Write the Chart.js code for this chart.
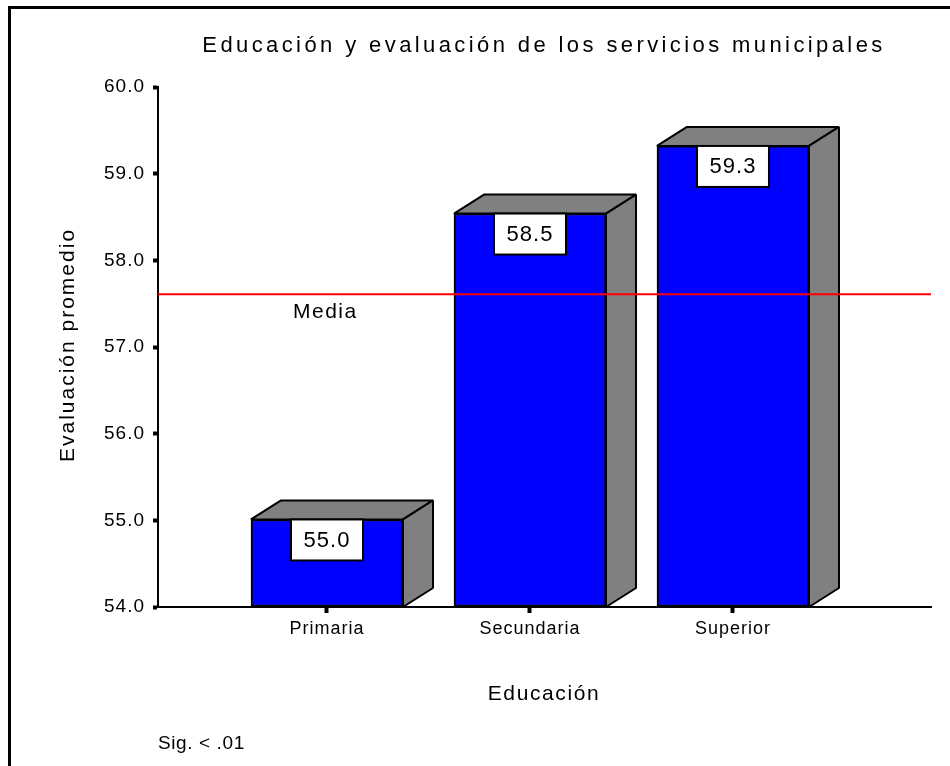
<!DOCTYPE html>
<html>
<head>
<meta charset="utf-8">
<title>Educación y evaluación de los servicios municipales</title>
<script src="https://cdn.jsdelivr.net/npm/chart.js@4.4.1/dist/chart.umd.min.js"></script>
<style>
  html, body { margin: 0; padding: 0; background: #fff; }
  canvas { display: block; }
</style>
</head>
<body>
<canvas id="chart" width="950" height="766"></canvas>
<script>
// datos
const categories = ['Primaria', 'Secundaria', 'Superior'];
const evaluacion = [55.01, 58.54, 59.32];
const media = 57.61;
const yTicks = [54, 55, 56, 57, 58, 59, 60];

const FONT = "'Liberation Sans', Arial, sans-serif";
const DX = 30, DY = 19; // profundidad 3D

function spacedText(ctx, text, x, y, size, spacing, align) {
    ctx.font = size + 'px ' + FONT;
    ctx.letterSpacing = spacing + 'px';
    ctx.textAlign = align || 'center';
    ctx.textBaseline = 'middle';
    ctx.fillStyle = '#000';
    ctx.fillText(text, x, y);
}

// marco y espaciado de letras de los ejes
const framePlugin = {
    id: 'frame',
    beforeDraw(chart) {
        const ctx = chart.ctx;
        ctx.save();
        ctx.fillStyle = '#fff';
        ctx.fillRect(0, 0, chart.width, chart.height);
        ctx.strokeStyle = '#000';
        ctx.lineWidth = 3;
        ctx.strokeRect(9.5, 7.5, 1000, 1000);
        ctx.restore();
        ctx.letterSpacing = '1px';
    }
};

// caras 3D, linea de la media, etiquetas
const barsPlugin = {
    id: 'bars3d',
    afterDatasetsDraw(chart) {
        const ctx = chart.ctx;
        const y = chart.scales.y;
        const area = chart.chartArea;
        const meta = chart.getDatasetMeta(0);
        const b = y.getPixelForValue(y.min);

        meta.data.forEach(bar => {
            const p = bar.getProps(['x', 'y', 'width'], true);
            const l = p.x - p.width / 2, r = p.x + p.width / 2, t = p.y;
            ctx.save();
            ctx.fillStyle = '#808080';
            ctx.strokeStyle = '#000';
            ctx.lineWidth = 2;
            ctx.lineJoin = 'bevel';
            ctx.beginPath();
            ctx.moveTo(l, t); ctx.lineTo(l + DX, t - DY); ctx.lineTo(r + DX, t - DY); ctx.lineTo(r, t);
            ctx.closePath(); ctx.fill(); ctx.stroke();
            ctx.beginPath();
            ctx.moveTo(r, t); ctx.lineTo(r + DX, t - DY); ctx.lineTo(r + DX, b - DY); ctx.lineTo(r, b);
            ctx.closePath(); ctx.fill(); ctx.stroke();
            ctx.restore();
        });

        // linea de la media
        const ym = y.getPixelForValue(media);
        ctx.save();
        ctx.strokeStyle = '#ff0000';
        ctx.lineWidth = 2;
        ctx.beginPath();
        ctx.moveTo(area.left, ym);
        ctx.lineTo(area.right, ym);
        ctx.stroke();
        spacedText(ctx, 'Media', 293, ym + 18, 21, 1.5, 'left');
        ctx.restore();

        // etiquetas de valor
        meta.data.forEach((bar, i) => {
            const p = bar.getProps(['x', 'y'], true);
            ctx.save();
            ctx.fillStyle = '#fff';
            ctx.strokeStyle = '#000';
            ctx.lineWidth = 2;
            ctx.fillRect(p.x - 36, p.y, 72, 41);
            ctx.strokeRect(p.x - 36, p.y, 72, 41);
            spacedText(ctx, evaluacion[i].toFixed(1), p.x, p.y + 21, 22, 1);
            ctx.restore();
        });
    },
    afterDraw(chart) {
        const ctx = chart.ctx;
        ctx.save();
        spacedText(ctx, 'Educación y evaluación de los servicios municipales', 544, 46, 22, 3.4);
        spacedText(ctx, 'Educación', 544, 694, 21, 1.6);
        spacedText(ctx, 'Sig. < .01', 158, 744, 19, 0.6, 'left');
        ctx.translate(68, 345);
        ctx.rotate(-Math.PI / 2);
        spacedText(ctx, 'Evaluación promedio', 0, 0, 21, 2);
        ctx.restore();
    }
};

Chart.defaults.font.family = FONT;
Chart.defaults.color = '#000';

new Chart(document.getElementById('chart'), {
    type: 'bar',
    data: {
        datasets: [{
            data: categories.map((c, i) => ({ x: i + 1, y: evaluacion[i] })),
            base: yTicks[0],
            backgroundColor: '#0000ff',
            borderColor: '#000',
            borderWidth: 2,
            borderSkipped: false,
            barThickness: 152
        }]
    },
    options: {
        responsive: false,
        animation: false,
        layout: { padding: { left: 0, top: 87, right: 19, bottom: 119 } },
        plugins: { legend: { display: false }, tooltip: { enabled: false } },
        scales: {
            x: {
                type: 'linear',
                offset: false,
                min: 0.1675,
                max: 3.9755,
                afterBuildTicks: s => { s.ticks = categories.map((c, i) => ({ value: i + 1 })); },
                afterFit: s => { s.height = 40; },
                ticks: {
                    callback: v => categories[v - 1],
                    font: { size: 18 },
                    padding: 5,
                    maxRotation: 0
                },
                grid: { offset: false, drawOnChartArea: false, color: '#000', tickLength: 6, tickWidth: 4 },
                border: { color: '#000', width: 2 }
            },
            y: {
                min: 54,
                max: 60,
                afterBuildTicks: s => { s.ticks = yTicks.map(v => ({ value: v })); },
                afterFit: s => { s.width = 158; },
                ticks: {
                    callback: v => v.toFixed(1),
                    font: { size: 19 },
                    padding: 8
                },
                grid: { drawOnChartArea: false, color: '#000', tickLength: 5, tickWidth: 4 },
                border: { color: '#000', width: 2 }
            }
        }
    },
    plugins: [framePlugin, barsPlugin]
});
</script>
</body>
</html>
